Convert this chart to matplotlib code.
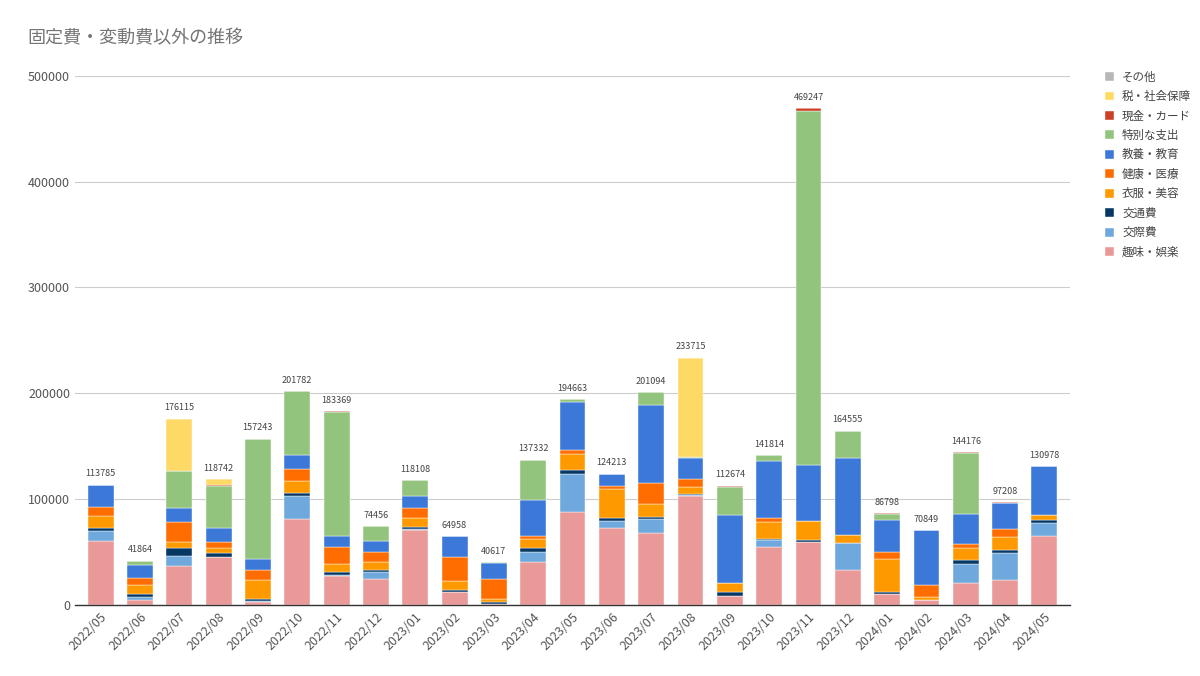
import matplotlib
matplotlib.use("Agg")
import matplotlib.pyplot as plt
import numpy as np

plt.rcParams["font.family"] = ["Noto Sans CJK JP", "DejaVu Sans"]

months = [
    "2022/05", "2022/06", "2022/07", "2022/08", "2022/09", "2022/10", "2022/11",
    "2022/12", "2023/01", "2023/02", "2023/03", "2023/04", "2023/05", "2023/06",
    "2023/07", "2023/08", "2023/09", "2023/10", "2023/11", "2023/12", "2024/01",
    "2024/02", "2024/03", "2024/04", "2024/05",
]

# stacking order: bottom -> top
hobby = [60000, 4400, 36600, 45500, 2800, 81500, 27500, 24300, 70800, 12000, 500, 40400, 88200,
         72400, 68300, 103300, 8500, 54700, 59400, 33200, 10100, 4400, 20500, 23700, 65400]
social = [10000, 3200, 9800, 0, 1000, 21800, 1000, 7300, 1000, 0, 0, 9800, 35700,
          7200, 12900, 500, 0, 6600, 0, 25600, 0, 0, 18600, 25600, 12300]
transport = [3000, 3100, 7300, 3800, 2200, 2800, 2500, 1300, 1500, 1900, 2000, 3200, 3800,
             2200, 2200, 1400, 3500, 1000, 1900, 0, 1900, 0, 3500, 2500, 2800]
clothing = [11000, 8200, 5700, 5000, 18000, 11100, 7600, 7900, 8900, 9200, 2900, 8800, 14500,
            27800, 11700, 6000, 8900, 16100, 17700, 7600, 31300, 3500, 11100, 12600, 4400]
health = [9000, 6600, 18600, 5100, 9200, 11700, 16100, 9500, 9400, 22700, 19600, 2600, 3800,
          3200, 20200, 7900, 0, 3400, 0, 0, 6600, 11000, 4100, 7000, 0]
education = [20300, 12000, 13600, 13000, 10100, 12600, 10700, 10100, 11100, 19158, 14500, 34700, 45500,
             10700, 73600, 20200, 64100, 54100, 53400, 72700, 30700, 51949, 28100, 25300, 46078]
special = [0, 4364, 34800, 40100, 113943, 60282, 117100, 14056, 15408, 0, 1117, 37832, 3163,
           713, 12194, 600, 26200, 5914, 334600, 25000, 5700, 0, 57800, 0, 0]
cash = [485, 0, 0, 900, 0, 0, 869, 0, 0, 0, 0, 0, 0,
        0, 0, 0, 1474, 0, 2247, 455, 498, 0, 476, 508, 0]
tax = [0, 0, 49715, 5342, 0, 0, 0, 0, 0, 0, 0, 0, 0,
       0, 0, 93815, 0, 0, 0, 0, 0, 0, 0, 0, 0]
other = [0] * 25

series = [
    ("趣味・娯楽", hobby, "#EA9999"),
    ("交際費", social, "#6FA8DC"),
    ("交通費", transport, "#073763"),
    ("衣服・美容", clothing, "#FF9900"),
    ("健康・医療", health, "#FF6D01"),
    ("教養・教育", education, "#3C78D8"),
    ("特別な支出", special, "#93C47D"),
    ("現金・カード", cash, "#CC4125"),
    ("税・社会保障", tax, "#FFD966"),
    ("その他", other, "#B7B7B7"),
]

fig = plt.figure(figsize=(12, 6.76), dpi=100)
ax = fig.add_axes([0.0625, 0.105, 0.8292, 0.7831])

x = np.arange(len(months))
bottom = np.zeros(len(months))
handles = []
for name, vals, color in series:
    vals = np.array(vals, dtype=float)
    h = ax.bar(x, vals, 0.66, bottom=bottom, color=color, label=name,
               edgecolor="white", linewidth=0.3, zorder=2)
    handles.append(h)
    bottom += vals

for xi, total in zip(x, bottom):
    ax.text(xi, total + 6000, f"{int(total)}", ha="center", va="bottom",
            fontsize=6.5, color="#444444")

ax.set_xlim(-0.65, 24.65)
ax.set_ylim(0, 500000)
ax.set_yticks([0, 100000, 200000, 300000, 400000, 500000])
ax.set_yticklabels(["0", "100000", "200000", "300000", "400000", "500000"])
ax.set_xticks(x)
ax.set_xticklabels(months, rotation=45, ha="right", rotation_mode="anchor")
ax.tick_params(axis="both", length=0, labelsize=9, labelcolor="#555555")
ax.tick_params(axis="x", pad=4)
ax.grid(axis="y", color="#cccccc", linewidth=0.8, zorder=0)
for s in ["top", "right", "left"]:
    ax.spines[s].set_visible(False)
ax.spines["bottom"].set_color("#333333")
ax.spines["bottom"].set_linewidth(1.0)
ax.spines["bottom"].set_zorder(3)

fig.text(0.023, 0.944, "固定費・変動費以外の推移", fontsize=13, color="#757575",
         ha="left", va="center")

fig.legend(handles[::-1], [s[0] for s in series][::-1], loc="upper left",
           bbox_to_anchor=(0.912, 0.911), frameon=False, fontsize=8.3,
           labelcolor="#444444", handlelength=0.8, handleheight=0.8,
           handletextpad=0.7, labelspacing=0.56)

fig.savefig("out.png", dpi=100)
